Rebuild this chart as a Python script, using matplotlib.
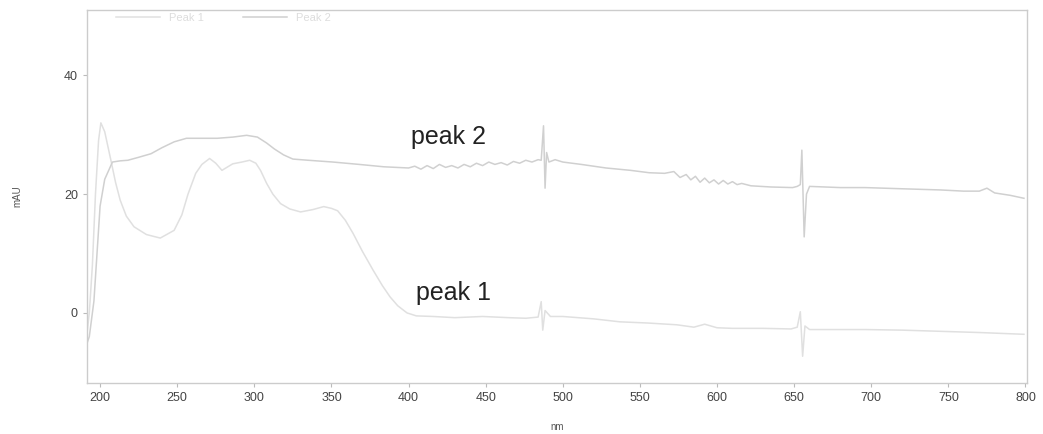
import matplotlib.pyplot as plt

# ── Spectra (nm, mAU) ────────────────────────────────────────────────────────
peak2_nm = [191, 193, 196, 198, 200, 203, 208, 213, 218, 225, 233, 240, 248, 256,
            266, 276, 286, 295, 302, 308, 313, 319, 325, 335, 351, 368, 384, 400,
            404, 408, 412, 416, 420, 424, 428, 432, 436, 440, 444, 448, 452, 456,
            460, 464, 468, 472, 476, 480, 484, 486, 487.5, 488.5, 489.5, 491, 495,
            500, 512, 528, 544, 556, 566, 572, 576, 580, 583, 586, 589, 592, 595,
            598, 601, 604, 607, 610, 613, 616, 622, 635, 649, 652, 654, 655,
            656.5, 658, 660, 680, 696, 720, 745, 760, 770, 775, 780, 790, 799]
peak2_mau = [-5.5, -4.0, 2.0, 10.0, 18.0, 22.5, 25.4, 25.6, 25.7, 26.2, 26.8, 27.8,
             28.8, 29.4, 29.4, 29.4, 29.6, 29.9, 29.6, 28.6, 27.6, 26.6, 25.9, 25.7,
             25.4, 25.0, 24.6, 24.4, 24.7, 24.2, 24.8, 24.3, 25.0, 24.5, 24.8, 24.4,
             25.0, 24.6, 25.2, 24.8, 25.4, 25.0, 25.3, 24.9, 25.5, 25.2, 25.7, 25.4,
             25.8, 25.7, 31.5, 21.0, 27.0, 25.4, 25.8, 25.4, 25.0, 24.4, 24.0, 23.6,
             23.5, 23.8, 22.8, 23.3, 22.4, 23.0, 22.0, 22.7, 21.9, 22.4, 21.7, 22.3,
             21.7, 22.1, 21.6, 21.8, 21.4, 21.2, 21.1, 21.3, 21.6, 27.4, 12.8, 20.0,
             21.3, 21.1, 21.1, 20.9, 20.7, 20.5, 20.5, 21.0, 20.2, 19.8, 19.3]

peak1_nm = [191, 193, 195, 197, 199, 200.5, 203, 207, 210, 213, 217, 222, 230, 239,
            248, 253, 257, 262, 266, 271, 275, 279, 286, 292, 297, 301, 304, 308,
            312, 317, 323, 330, 338, 345, 350, 354, 359, 364, 370, 377, 383, 388,
            393, 399, 405, 416, 430, 448, 465, 476, 484, 486, 487, 488.5, 492, 500,
            520, 537, 555, 574, 585, 592, 600, 610, 630, 648, 652, 654, 655.5,
            657, 660, 680, 696, 720, 745, 770, 799]
peak1_mau = [-4.5, 0.0, 8.0, 20.0, 29.0, 32.0, 30.5, 25.7, 22.0, 19.0, 16.3, 14.5,
             13.2, 12.6, 13.9, 16.5, 20.0, 23.5, 25.0, 26.0, 25.2, 24.0, 25.1, 25.4,
             25.7, 25.2, 24.0, 21.8, 20.0, 18.4, 17.5, 17.0, 17.4, 17.9, 17.6, 17.2,
             15.6, 13.4, 10.4, 7.2, 4.6, 2.7, 1.2, 0.0, -0.5, -0.6, -0.8, -0.6, -0.8,
             -0.9, -0.7, 1.9, -2.9, 0.4, -0.6, -0.6, -1.0, -1.5, -1.7, -2.0, -2.4,
             -1.9, -2.5, -2.6, -2.6, -2.7, -2.4, 0.2, -7.3, -2.2, -2.8, -2.8, -2.8,
             -2.9, -3.1, -3.3, -3.6]

legend_labels = ["Peak 1", "Peak 2"]

# ── Plot ──────────────────────────────────────────────────────────────────────
plt.rcParams["font.family"] = ["Liberation Sans", "DejaVu Sans"]

fig = plt.figure(figsize=(10.43, 4.34), dpi=100)
ax = fig.add_axes([0.0834, 0.1175, 0.9013, 0.8595])

ax.plot(peak1_nm, peak1_mau, color="#e0e0e0", linewidth=1.1, label=legend_labels[0])
ax.plot(peak2_nm, peak2_mau, color="#d0d0d0", linewidth=1.1, label=legend_labels[1])

ax.text(426, 29.7, "peak 2", fontsize=18, color="#222222", ha="center", va="center")
ax.text(429, 3.4, "peak 1", fontsize=18, color="#222222", ha="center", va="center")

ax.set_xlim(191.5, 801)
ax.set_ylim(-11.8, 51)
ax.set_xticks(range(200, 801, 50))
ax.set_yticks([0, 20, 40])
ax.tick_params(labelsize=9, colors="#bbbbbb", labelcolor="#444444", length=3)
ax.set_xlabel("nm", fontsize=7, color="#555555", labelpad=13)
ax.set_ylabel("mAU", fontsize=7, color="#555555", labelpad=30)

for side in ax.spines.values():
    side.set_color("#cccccc")
    side.set_linewidth(1.0)

leg = ax.legend(loc="upper left", ncol=2, frameon=False, fontsize=8,
                bbox_to_anchor=(0.02, 1.02), handlelength=4, columnspacing=3.5)
for t in leg.get_texts():
    t.set_color("#dddddd")

plt.savefig("out.png", dpi=100)
